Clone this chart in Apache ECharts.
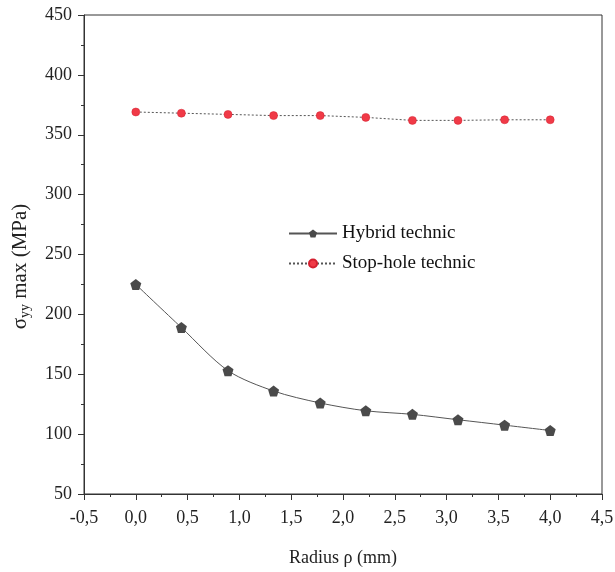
<!DOCTYPE html>
<html>
<head>
<meta charset="utf-8">
<script src="https://cdn.jsdelivr.net/npm/echarts@6/dist/echarts.min.js"></script>
<style>
  html, body { margin: 0; padding: 0; background: #fff; }
  #chart { width: 615px; height: 572px; }
</style>
</head>
<body>
<div id="chart"></div>
<script>
// radius values (mm)
const radius = [0, 0.44, 0.89, 1.33, 1.78, 2.22, 2.67, 3.11, 3.56, 4.0];
const hybrid = [225, 189, 153, 136, 126, 119.5, 116.5, 112, 107.5, 103];
const stopHole = [369, 368, 367, 366, 366, 364.5, 362, 362, 362.5, 362.5];

const toPairs = (xs, ys) => xs.map((x, i) => [x, ys[i]]);

let myChart = echarts.init(document.getElementById("chart"));
const font = "Liberation Serif";

let option = {
  animation: false,
  textStyle: { fontFamily: font },
  grid: {
    left: 84,
    right: 13,
    top: 15,
    bottom: 78,
    outerBoundsMode: "none",
    containLabel: false,
    show: true,
    borderColor: "#333",
    borderWidth: 1,
  },
  legend: {
    left: 283,
    top: 219,
    orient: "vertical",
    itemWidth: 48,
    itemHeight: 10,
    itemGap: 11,
    textStyle: { fontFamily: font, fontSize: 19, color: "#111" },
    data: ["Hybrid technic", "Stop-hole technic"],
  },
  xAxis: {
    type: "value",
    min: -0.5,
    max: 4.5,
    interval: 0.5,
    name: "Radius ρ (mm)",
    nameLocation: "middle",
    nameGap: 55,
    nameTextStyle: { fontFamily: font, fontSize: 18, color: "#222" },
    axisLine: { onZero: false, lineStyle: { color: "#333", width: 1 } },
    axisTick: { inside: false, length: 6, lineStyle: { color: "#333" } },
    minorTick: { show: true, splitNumber: 2, length: 3, lineStyle: { color: "#333" } },
    splitLine: { show: false },
    axisLabel: {
      fontFamily: font,
      fontSize: 18,
      color: "#222",
      margin: 15,
      formatter: (v) => v.toFixed(1).replace(".", ","),
    },
  },
  yAxis: {
    type: "value",
    min: 50,
    max: 450,
    interval: 50,
    name: "{s|σ}{sub|yy}{s| max (MPa)}",
    nameLocation: "middle",
    nameGap: 52,
    nameTextStyle: {
      padding: [0, 24, 0, 0],
      rich: {
        s: { fontFamily: font, fontSize: 21, color: "#222" },
        sub: { fontFamily: font, fontSize: 14, color: "#222", verticalAlign: "bottom", padding: [9, 0, 0, 0] },
      },
    },
    axisLine: { show: true, onZero: false, lineStyle: { color: "#333", width: 1 } },
    axisTick: { show: true, inside: false, length: 6, lineStyle: { color: "#333" } },
    minorTick: { show: true, splitNumber: 2, length: 3, lineStyle: { color: "#333" } },
    splitLine: { show: false },
    axisLabel: { fontFamily: font, fontSize: 18, color: "#222", margin: 12 },
  },
  series: [
    {
      name: "Hybrid technic",
      type: "line",
      smooth: 0.3,
      data: toPairs(radius, hybrid),
      symbol: "path://M0,-10 L9.5,-3.1 L5.9,8.1 L-5.9,8.1 L-9.5,-3.1 Z",
      symbolSize: 11,
      itemStyle: { color: "#4a4a4a" },
      lineStyle: { color: "#555", width: 1 },
    },
    {
      name: "Stop-hole technic",
      type: "line",
      data: toPairs(radius, stopHole),
      symbol: "circle",
      symbolSize: 8,
      itemStyle: { color: "#f03a47", borderColor: "#d42030", borderWidth: 0.5 },
      lineStyle: { color: "#555", width: 1, type: [2, 2] },
    },
  ],
};

myChart.setOption(option);
</script>
</body>
</html>
